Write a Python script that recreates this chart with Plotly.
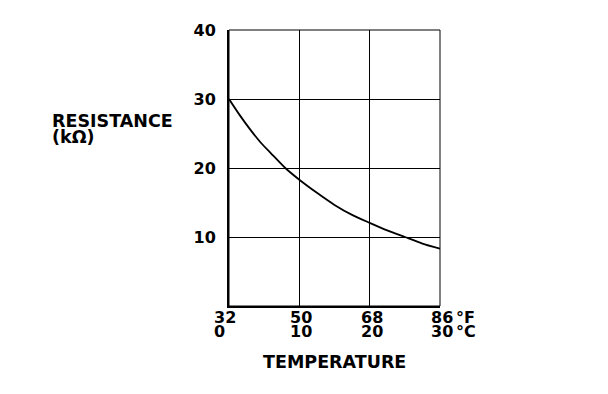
import plotly.graph_objects as go

# Data
temp_c = [0, 1.5, 3, 4.5, 6, 8, 10, 12.5, 15, 17.5, 20, 22.5, 25, 27.5, 30]
resistance_kohm = [30, 27.7, 25.6, 23.7, 22.1, 20.0, 18.3, 16.4, 14.65, 13.2, 12.05, 10.95, 10.0, 9.05, 8.3]
tick_c = [0, 10, 20, 30]
tick_f_labels = ["32", "50", "68", "86"]
tick_c_labels = ["0", "10", "20", "30"]
y_ticks = [10, 20, 30, 40]

FONT = "DejaVu Sans"

fig = go.Figure()
fig.add_trace(go.Scatter(
    x=temp_c, y=resistance_kohm, mode="lines",
    line=dict(color="black", width=1.8, shape="spline", smoothing=0.6),
    hoverinfo="skip", showlegend=False,
))

# page body has an 8px margin, so the figure is 8px smaller than the window
fig.update_layout(
    width=600, height=386,
    margin=dict(l=221, r=168, t=22, b=88, pad=0),
    paper_bgcolor="white", plot_bgcolor="white",
    font=dict(family=FONT, color="black"),
    xaxis=dict(
        range=[0, 30], tickvals=[10, 20], showticklabels=False,
        showgrid=True, gridcolor="black", gridwidth=1,
        zeroline=False, showline=True, linecolor="black", linewidth=2,
        ticks="", fixedrange=True,
    ),
    yaxis=dict(
        range=[0, 40], tickvals=y_ticks,
        showgrid=True, gridcolor="black", gridwidth=1,
        zeroline=False, showline=True, linecolor="black", linewidth=2,
        ticks="", ticklabelstandoff=8,
        tickfont=dict(family=FONT, size=16, color="black", weight="bold"),
        fixedrange=True,
    ),
)

# thin frame for top and right edges
fig.add_shape(type="rect", xref="paper", yref="paper", x0=0, x1=1, y0=0, y1=1,
              line=dict(color="black", width=1), layer="above")

tick_font = dict(family=FONT, size=16, color="black", weight="bold")
for i, (c, fl, cl) in enumerate(zip(tick_c, tick_f_labels, tick_c_labels)):
    fig.add_annotation(x=c, xref="x", y=0, yref="paper", text=fl, showarrow=False,
                       xanchor="center", yanchor="middle", yshift=-11,
                       xshift=(-4 if i == 0 else 2), font=tick_font)
    fig.add_annotation(x=c, xref="x", y=0, yref="paper", text=cl, showarrow=False,
                       xanchor="center", yanchor="middle", yshift=-25,
                       xshift=(-10 if i == 0 else 2), font=tick_font)

fig.add_annotation(x=30, xref="x", y=0, yref="paper", text="°F", showarrow=False,
                   xanchor="left", yanchor="middle", yshift=-11, xshift=14, font=tick_font)
fig.add_annotation(x=30, xref="x", y=0, yref="paper", text="°C", showarrow=False,
                   xanchor="left", yanchor="middle", yshift=-25, xshift=14, font=tick_font)

title_font = dict(family=FONT, size=17.5, color="black", weight="bold")
fig.add_annotation(x=0.5, xref="paper", y=0, yref="paper", text="TEMPERATURE",
                   showarrow=False, xanchor="center", yanchor="middle", yshift=-56,
                   font=title_font)
fig.add_annotation(x=(50 - 229) / 211, xref="paper", y=(306 - 121) / 276, yref="paper",
                   text="RESISTANCE", showarrow=False, xanchor="left", yanchor="middle",
                   font=title_font)
fig.add_annotation(x=(50 - 229) / 211, xref="paper", y=(306 - 137) / 276, yref="paper",
                   text="(kΩ)", showarrow=False, xanchor="left", yanchor="middle",
                   font=title_font)

fig.write_html("out.html", config={"displayModeBar": False})
